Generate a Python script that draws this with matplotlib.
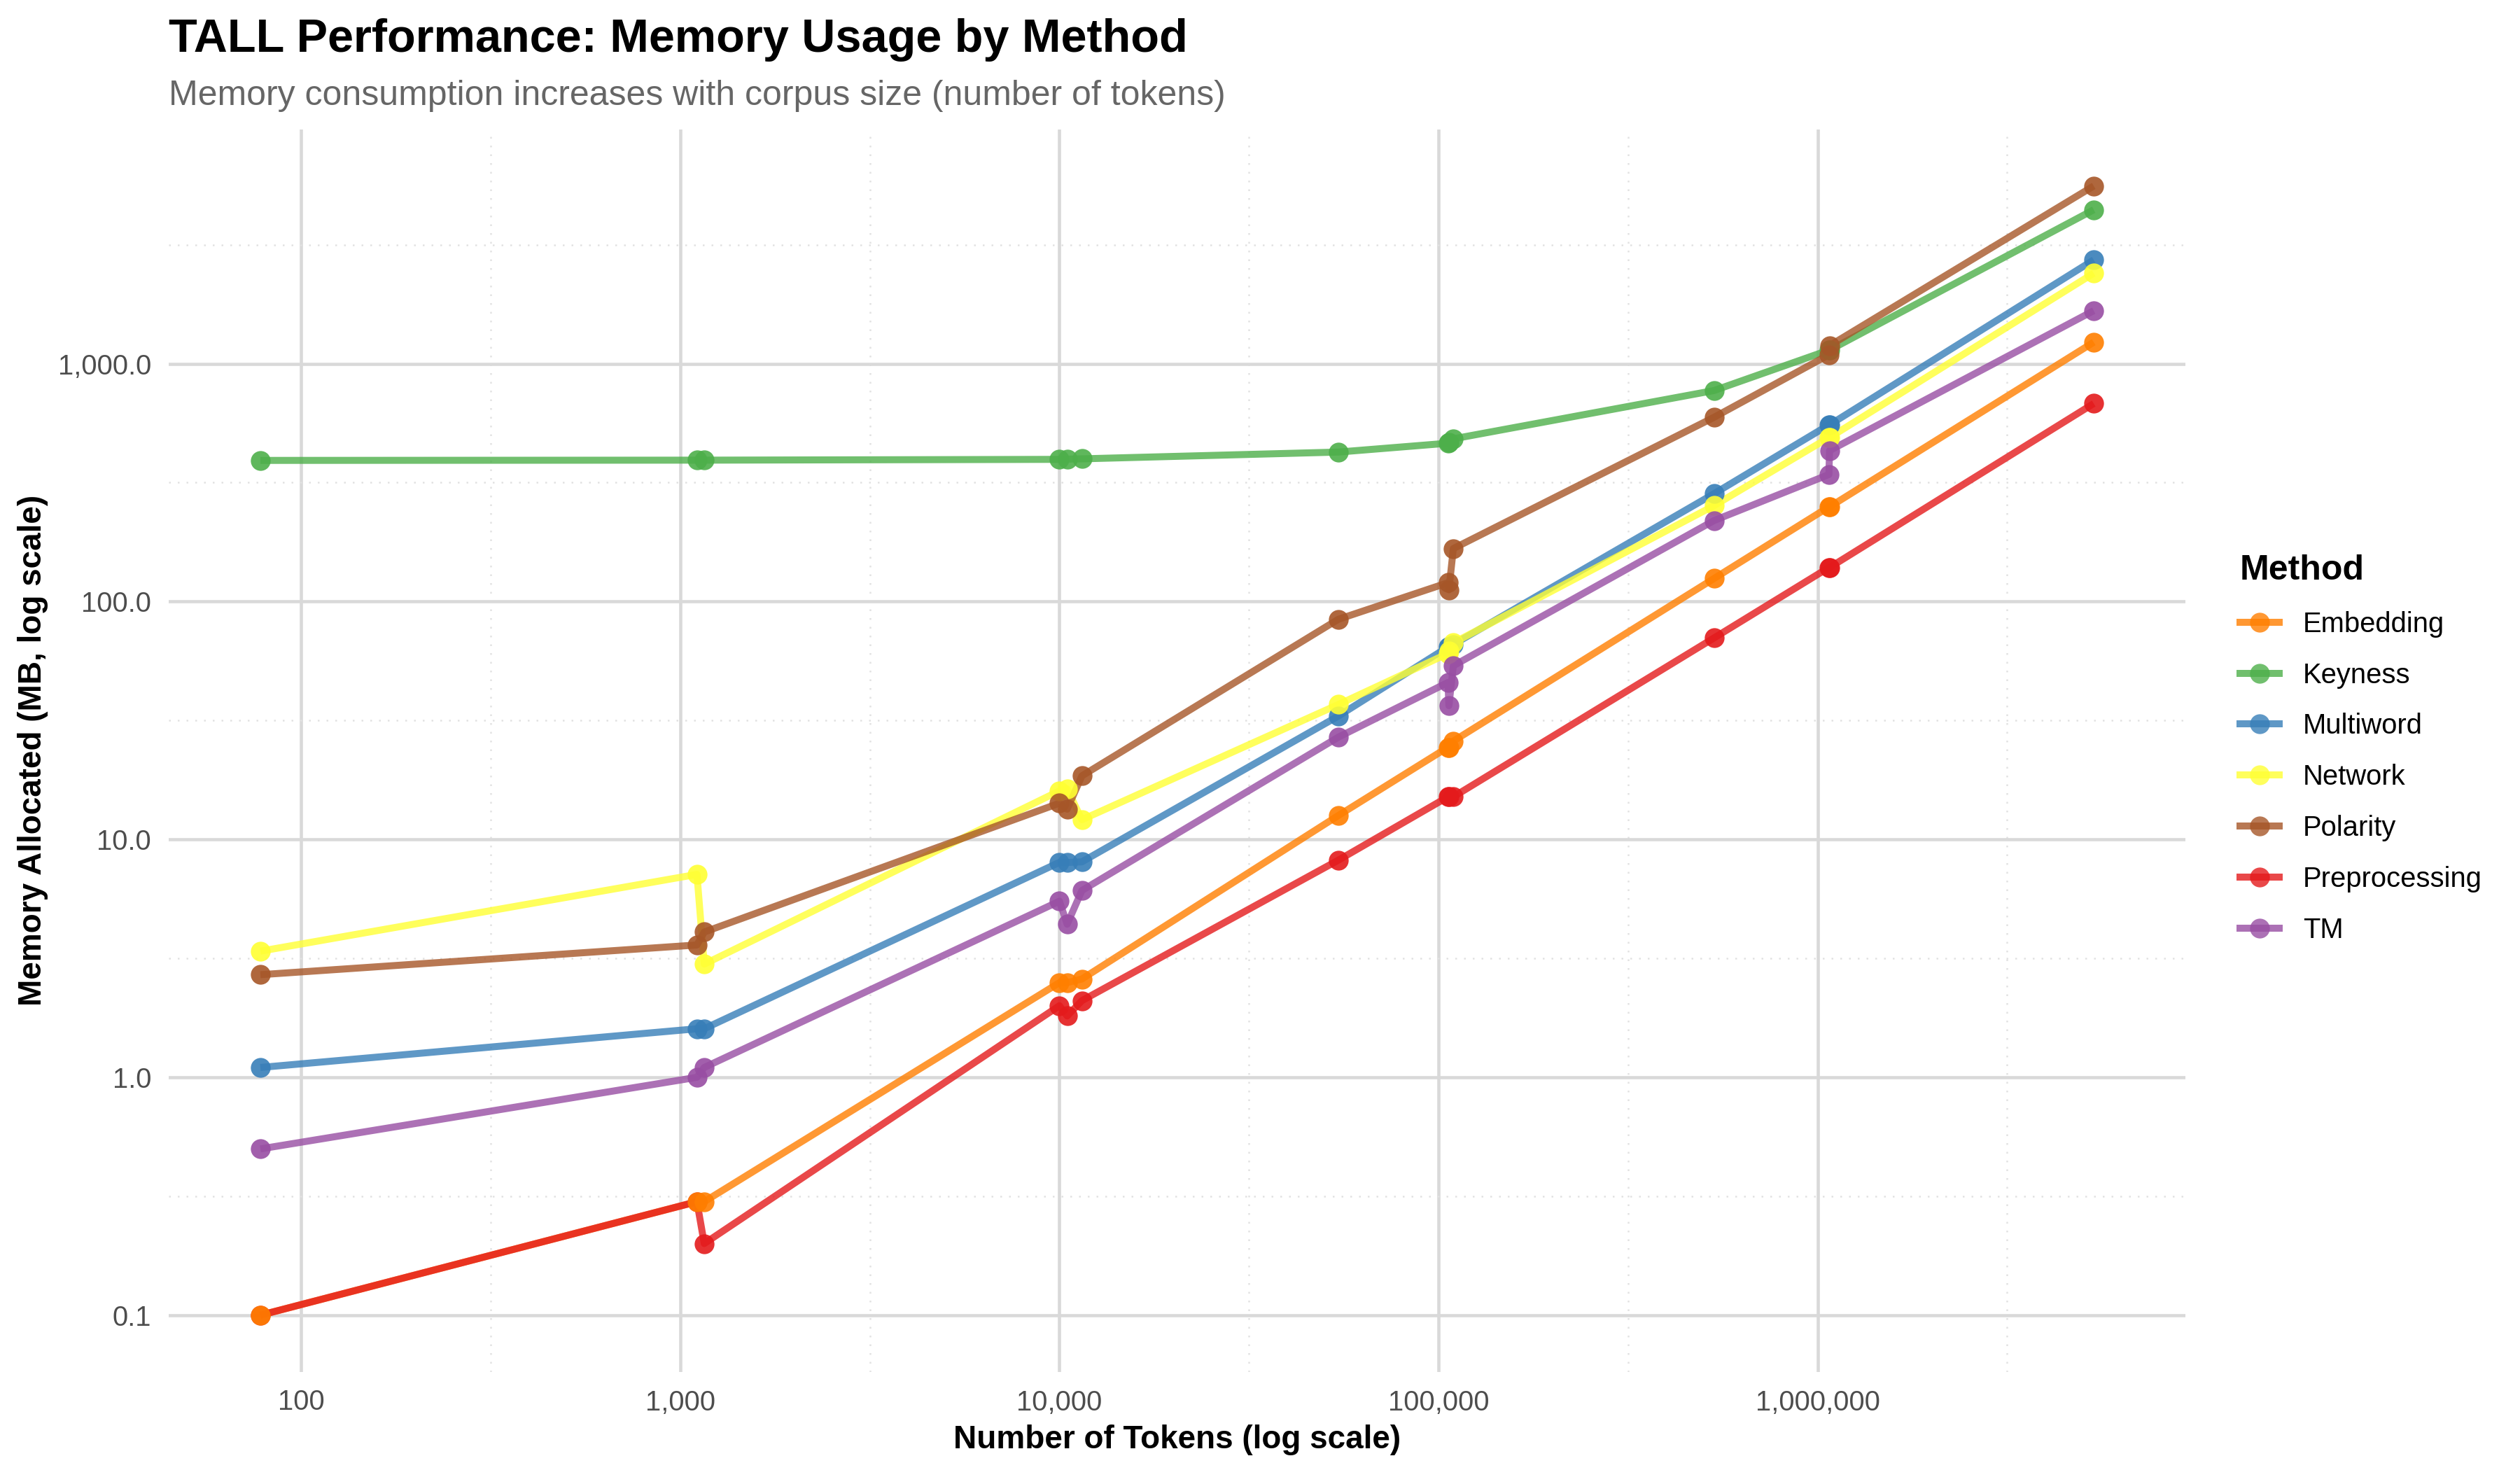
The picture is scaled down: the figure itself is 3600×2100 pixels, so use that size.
import numpy as np
import matplotlib
matplotlib.use("Agg")
import matplotlib.pyplot as plt
from matplotlib.lines import Line2D
from matplotlib.ticker import FixedLocator, NullFormatter

plt.rcParams['font.family'] = ['Liberation Sans', 'DejaVu Sans']

# corpus sizes (tokens), shared by every method
tokens = [78, 1106, 1156, 10000, 10480, 11460, 54400, 105900, 106500, 109400,
          533000, 1071000, 1075000, 5350000]

methods = ['Embedding', 'Keyness', 'Multiword', 'Network', 'Polarity', 'Preprocessing', 'TM']

# memory allocated (MB)
embedding = [0.1, 0.30, 0.30, 2.50, 2.50, 2.59, 12.6, 24.4, 24.4, 25.9, 125, 250, 250, 1231]
keyness = [392, 393, 393, 396, 397, 398, 425, 463, 467, 483, 771, 1140, 1140, 4436]
multiword = [1.10, 1.60, 1.60, 8.01, 8.00, 8.05, 33.0, 64.4, 64.4, 66.0, 284, 553, 553, 2730]
network = [3.39, 7.13, 2.99, 16.0, 16.3, 12.1, 36.9, 60.5, 62.0, 67.0, 253, 489, 489, 2400]
polarity = [2.70, 3.60, 4.08, 14.2, 13.4, 18.5, 84.2, 120, 112, 167, 595, 1090, 1190, 5585]
preprocessing = [0.1, 0.30, 0.20, 2.00, 1.81, 2.10, 8.18, 15.1, 15.1, 15.1, 70.3, 139, 139, 680]
tm = [0.50, 1.00, 1.10, 5.50, 4.40, 6.10, 26.9, 45.7, 36.5, 53.7, 219, 342, 431, 1670]

series = [embedding, keyness, multiword, network, polarity, preprocessing, tm]
colors = ['#FF7F00', '#4DAF4A', '#377EB8', '#FFFF33', '#A65628', '#E41A1C', '#984EA3']

x_ticks = [100, 1000, 10000, 100000, 1000000]
y_ticks = [0.1, 1, 10, 100, 1000]

W, H = 3600, 2100
fig = plt.figure(figsize=(12, 7), dpi=300)
left, right, top, bottom = 241, 3122, 185, 1959.5
ax = fig.add_axes([left / W, 1 - bottom / H, (right - left) / W, (bottom - top) / H])

# lines first, then points (like ggplot layers)
for vals, c in zip(series, colors):
    ax.plot(tokens, vals, color=c, lw=2.4, alpha=0.8, solid_capstyle='butt', zorder=2)
point_order = [5, 0, 1, 2, 3, 4, 6]
for i in point_order:
    ax.plot(tokens, series[i], linestyle='none', marker='o', ms=6.8, mew=0,
            color=colors[i], alpha=0.9, zorder=3)

ax.set_xscale('log')
ax.set_yscale('log')

# 5% expansion in log space, as ggplot does
lx = np.log10([min(tokens), max(tokens)])
px = 0.05 * (lx[1] - lx[0])
ax.set_xlim(10 ** (lx[0] - px), 10 ** (lx[1] + px))
all_y = np.concatenate([np.array(s, dtype=float) for s in series])
ly = np.log10([all_y.min(), all_y.max()])
py = 0.05 * (ly[1] - ly[0])
ax.set_ylim(10 ** (ly[0] - py), 10 ** (ly[1] + py))

ax.xaxis.set_major_locator(FixedLocator(x_ticks))
ax.set_xticklabels([f'{t:,}' for t in x_ticks])
ax.yaxis.set_major_locator(FixedLocator(y_ticks))
ax.set_yticklabels([f'{t:,.1f}' for t in y_ticks])
ax.xaxis.set_minor_locator(FixedLocator([10 ** (k + 0.5) for k in range(0, 8)]))
ax.yaxis.set_minor_locator(FixedLocator([10 ** (k + 0.5) for k in range(-3, 5)]))
ax.xaxis.set_minor_formatter(NullFormatter())
ax.yaxis.set_minor_formatter(NullFormatter())

ax.grid(which='major', color='#D9D9D9', lw=1.1, zorder=0)
ax.grid(which='minor', color='#E2E2E2', lw=0.6, linestyle=(0, (1, 4)), zorder=0)
ax.set_axisbelow(True)
ax.tick_params(which='both', length=0)
ax.tick_params(axis='both', labelsize=9.6, labelcolor='#4D4D4D', pad=6)
for s in ax.spines.values():
    s.set_visible(False)

fig.text(left / W, 1 - 74 / H, 'TALL Performance: Memory Usage by Method',
         fontsize=16, fontweight='bold', va='baseline', ha='left')
fig.text(left / W, 1 - 150 / H, 'Memory consumption increases with corpus size (number of tokens)',
         fontsize=12, color='#666666', va='baseline', ha='left')
fig.text((left + right) / 2 / W, 1 - 2069 / H, 'Number of Tokens (log scale)',
         fontsize=11, fontweight='bold', va='baseline', ha='center')
fig.text(47 / W, 1 - (top + bottom) / 2 / H, 'Memory Allocated (MB, log scale)',
         fontsize=11, fontweight='bold', va='center', ha='center', rotation=90)

handles = [Line2D([], [], color=c, lw=2.4, alpha=0.8, marker='o', ms=6.8, mew=0)
           for c in colors]
leg = fig.legend(handles, methods, loc='upper left', bbox_to_anchor=(3180 / W, 1 - 772 / H),
                 frameon=False, fontsize=9.6, title='Method', borderpad=0,
                 handlelength=1.4, handletextpad=0.85, labelspacing=0.87,
                 alignment='left')
leg.get_title().set_fontweight('bold')
leg.get_title().set_fontsize(12)

fig.savefig('out.png', dpi=300)
